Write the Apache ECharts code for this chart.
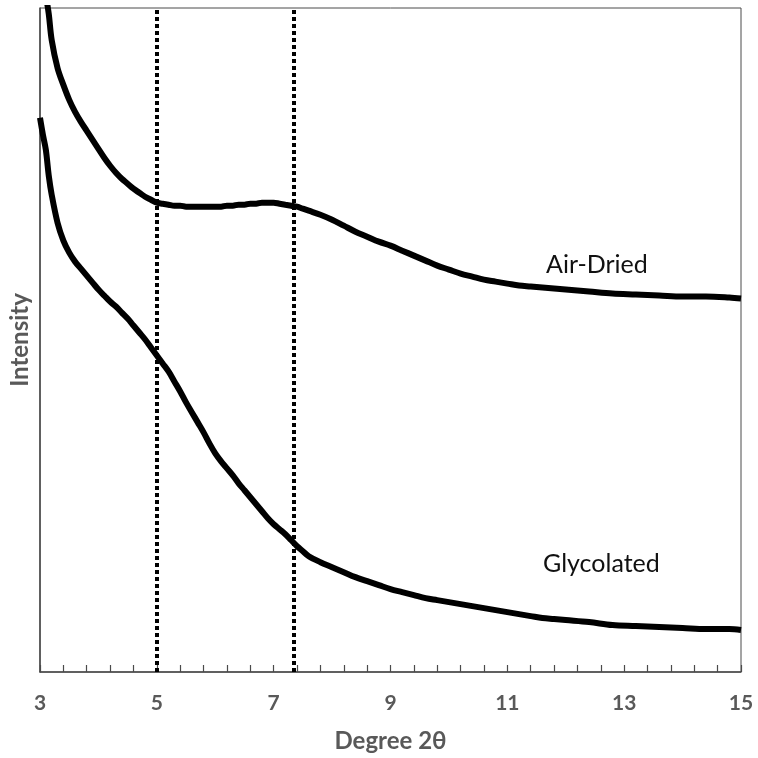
<!DOCTYPE html>
<html>
<head>
<meta charset="utf-8">
<script src="https://cdn.jsdelivr.net/npm/echarts@6/dist/echarts.min.js"></script>
<style>
  html, body { margin: 0; padding: 0; background: #fff; }
  #chart { width: 758px; height: 758px; }
</style>
</head>
<body>
<div id="chart"></div>
<script>
// Diffraction angle (degrees 2θ) at which both patterns are sampled
const twoTheta = [3.0, 3.05, 3.1, 3.15, 3.2, 3.3, 3.4, 3.5, 3.6, 3.7, 3.8, 3.9,
  4.0, 4.1, 4.2, 4.3, 4.4, 4.5, 4.6, 4.7, 4.8, 4.9,
  5.0, 5.1, 5.2, 5.3, 5.4, 5.5, 5.6, 5.7, 5.8, 5.9,
  6.0, 6.1, 6.2, 6.3, 6.4, 6.5, 6.6, 6.7, 6.8, 6.9,
  7.0, 7.1, 7.2, 7.3, 7.4, 7.5, 7.6, 7.8, 8.0, 8.2, 8.4, 8.6, 8.8,
  9.0, 9.2, 9.4, 9.6, 9.8, 10.0, 10.2, 10.4, 10.6, 10.8,
  11.0, 11.2, 11.4, 11.6, 11.8, 12.0, 12.4, 12.8, 13.2, 13.6, 14.0, 14.4, 14.8, 15.0];

// Intensity (arbitrary units), air-dried sample
const airDried = [713, 698, 678, 659, 633, 605, 588, 573, 561, 551, 542, 533,
  524, 515, 507, 500, 494, 489, 484, 480, 476, 473,
  470, 469, 468, 467, 467, 466, 466, 466, 466, 466,
  466, 466, 467, 467, 468, 468, 469, 469, 470, 470,
  470, 469, 468, 467, 466, 464, 462, 458, 453, 447, 441, 436, 431,
  427, 422, 417, 412, 407, 403, 399, 396, 393, 391,
  389, 387, 386, 385, 384, 383, 381, 379, 378, 377, 376, 376, 375, 374];

// Intensity (arbitrary units), glycolated sample
const glycolated = [555, 538, 523, 497, 478, 450, 432, 420, 411, 404, 397, 390,
  383, 377, 371, 366, 360, 354, 347, 340, 333, 325,
  317, 309, 301, 291, 281, 270, 260, 250, 240, 229,
  219, 211, 204, 197, 189, 182, 175, 168, 161, 154,
  148, 143, 138, 132, 126, 121, 116, 110, 105, 100, 95, 91, 87,
  83, 80, 77, 74, 72, 70, 68, 66, 64, 62,
  60, 58, 56, 54, 53, 52, 50, 47, 46, 45, 44, 43, 43, 42];

// Reference peak positions marked with dotted lines
const refLines = [5.0, 7.34];

// Curve labels
const seriesNames = ['Air-Dried', 'Glycolated'];

const axisGray = '#595959';
const lineGray = '#4a4a4a';
const fontFamily = 'Lato, "Open Sans", sans-serif';

const pairs = (ys) => twoTheta.map((x, i) => [x, ys[i]]);

function pattern(name, ys, extra) {
  return Object.assign({
    name, type: 'line', data: pairs(ys), showSymbol: false, smooth: 0.35, clip: true,
    lineStyle: { color: '#000', width: 6 }, z: 3
  }, extra || {});
}

const chart = echarts.init(document.getElementById('chart'), null, { renderer: 'canvas' });

chart.setOption({
  animation: false,
  backgroundColor: '#ffffff',
  grid: {
    left: 39, right: 17, top: 8, bottom: 85,
    show: true, borderColor: lineGray, borderWidth: 1, backgroundColor: 'transparent'
  },
  xAxis: {
    type: 'value',
    min: 3, max: 15, interval: 2,
    name: 'Degree 2θ',
    nameLocation: 'middle',
    nameGap: 57,
    nameTextStyle: { color: axisGray, fontFamily, fontWeight: 'bold', fontSize: 24 },
    axisLine: { show: true, lineStyle: { color: lineGray, width: 1.5 } },
    axisTick: { show: true, inside: true, length: 7, lineStyle: { color: lineGray, width: 1.2 } },
    minorTick: { show: true, splitNumber: 5, length: 7, lineStyle: { color: lineGray, width: 1.2 } },
    axisLabel: { color: axisGray, fontFamily, fontWeight: 'bold', fontSize: 21, margin: 21 },
    splitLine: { show: false },
    minorSplitLine: { show: false }
  },
  yAxis: {
    type: 'value',
    min: 0, max: 665,
    name: 'Intensity',
    nameLocation: 'middle',
    nameGap: 8,
    nameTextStyle: { color: axisGray, fontFamily, fontWeight: 'bold', fontSize: 24 },
    axisLine: { show: true, lineStyle: { color: lineGray, width: 1.5 } },
    axisTick: { show: false },
    axisLabel: { show: false },
    splitLine: { show: false }
  },
  series: [
    pattern(seriesNames[0], airDried, {
      markLine: {
        silent: true,
        symbol: ['none', 'none'],
        label: { show: false },
        lineStyle: { color: '#000', width: 4, type: [4, 3], opacity: 1 },
        data: refLines.map(v => ({ xAxis: v }))
      }
    }),
    pattern(seriesNames[1], glycolated)
  ],
  graphic: [
    {
      type: 'text', left: 546, top: 252,
      style: { text: seriesNames[0], fill: '#111', font: '25px ' + fontFamily }
    },
    {
      type: 'text', left: 543, top: 551,
      style: { text: seriesNames[1], fill: '#111', font: '25px ' + fontFamily }
    }
  ]
});
</script>
</body>
</html>
